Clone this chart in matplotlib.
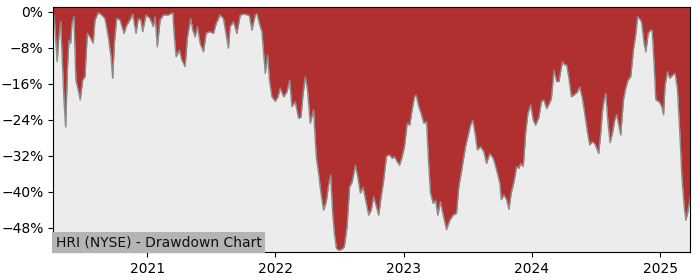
"""Drawdown chart for HRI (NYSE)

The drawdown values were read off the reference picture, in percent,
with the dates given as decimal years.
"""

import numpy as np
import pandas as pd
import matplotlib
matplotlib.use('Agg')
import matplotlib.pyplot as plt
import matplotlib.dates as mdates
from matplotlib.ticker import PercentFormatter

title = 'HRI (NYSE) - Drawdown Chart'

# decimal years of each reading
years = [
    2020.268, 2020.276, 2020.295, 2020.299, 2020.310, 2020.326, 2020.341, 2020.352,
    2020.365, 2020.380, 2020.391, 2020.404, 2020.414, 2020.430, 2020.445, 2020.463,
    2020.479, 2020.498, 2020.516, 2020.534, 2020.555, 2020.580, 2020.594, 2020.620,
    2020.646, 2020.672, 2020.698, 2020.719, 2020.732, 2020.745, 2020.763, 2020.789,
    2020.820, 2020.841, 2020.867, 2020.888, 2020.914, 2020.932, 2020.951, 2020.966,
    2020.992, 2021.023, 2021.049, 2021.063, 2021.080, 2021.102, 2021.127, 2021.166,
    2021.201, 2021.211, 2021.227, 2021.252, 2021.271, 2021.297, 2021.315, 2021.341,
    2021.357, 2021.375, 2021.393, 2021.414, 2021.440, 2021.461, 2021.487, 2021.518,
    2021.539, 2021.570, 2021.596, 2021.635, 2021.648, 2021.674, 2021.701, 2021.727,
    2021.766, 2021.799, 2021.818, 2021.844, 2021.857, 2021.883, 2021.896, 2021.922,
    2021.940, 2021.955, 2021.974, 2022.000, 2022.021,
    2022.039, 2022.065, 2022.091, 2022.112, 2022.130, 2022.156, 2022.182, 2022.201,
    2022.216, 2022.234, 2022.252, 2022.273, 2022.299, 2022.320, 2022.338, 2022.357,
    2022.377, 2022.398, 2022.416, 2022.432, 2022.448, 2022.461, 2022.477, 2022.495,
    2022.521, 2022.539, 2022.560, 2022.580, 2022.599, 2022.625, 2022.643, 2022.664,
    2022.685, 2022.703, 2022.729, 2022.748, 2022.768, 2022.789, 2022.807, 2022.826,
    2022.846, 2022.867, 2022.893, 2022.912, 2022.930, 2022.951, 2022.969, 2022.990,
    2023.008, 2023.029, 2023.049, 2023.068, 2023.086, 2023.099, 2023.120, 2023.138,
    2023.159, 2023.180, 2023.198, 2023.211, 2023.232, 2023.250, 2023.268, 2023.289,
    2023.310, 2023.336, 2023.362, 2023.388, 2023.414, 2023.432, 2023.459, 2023.484,
    2023.502, 2023.523, 2023.541, 2023.563, 2023.576, 2023.602, 2023.627, 2023.648,
    2023.674, 2023.701, 2023.727, 2023.752,
    2023.763, 2023.784, 2023.805, 2023.823, 2023.841, 2023.862, 2023.883, 2023.901,
    2023.914, 2023.935, 2023.953, 2023.971, 2023.992, 2024.013, 2024.031, 2024.057,
    2024.076, 2024.096, 2024.117, 2024.138, 2024.154, 2024.174, 2024.195, 2024.213,
    2024.240, 2024.258, 2024.273, 2024.291, 2024.310, 2024.330, 2024.357, 2024.375,
    2024.396, 2024.414, 2024.435, 2024.453, 2024.474, 2024.492, 2024.508, 2024.523,
    2024.539, 2024.552, 2024.565, 2024.578, 2024.596, 2024.612, 2024.630, 2024.648,
    2024.664, 2024.682, 2024.695, 2024.716, 2024.734, 2024.752, 2024.773, 2024.794,
    2024.813, 2024.826, 2024.841, 2024.857, 2024.877, 2024.891, 2024.909, 2024.924,
    2024.940, 2024.955, 2024.969, 2024.995, 2025.016, 2025.029, 2025.041, 2025.060,
    2025.078, 2025.099, 2025.120, 2025.138, 2025.156, 2025.172, 2025.190, 2025.203,
    2025.216, 2025.237,
]

# drawdown from the running high, percent
drawdown = [
    -0.5, -1.1, -9.6, -11.1, -6.3, -2.2, -12.2, -19.6,
    -25.6, -12.2, -6.3, -7.0, -2.6, -1.1, -15.2, -17.4,
    -19.6, -15.2, -14.4, -4.8, -5.6, -7.0, -1.8, -0.2,
    -0.7, -1.5, -5.6, -10.0, -14.8, -7.0, -1.5, -1.8,
    -4.8, -3.0, -1.8, -0.5, -4.8, -1.5, -1.8, -4.4,
    -0.7, -1.5, -3.3, -1.1, -7.8, -1.8, -0.7, -0.7,
    -0.2, -4.8, -10.0, -8.5, -10.7, -12.2, -5.6, -1.5,
    -4.1, -5.6, -3.3, -7.0, -8.9, -4.8, -4.4, -4.8,
    -2.6, -0.7, -1.5, -8.1, -3.3, -2.2, -4.8, -0.7,
    -0.5, -0.9, -4.1, -0.7, -0.4, -3.3, -4.4, -13.7,
    -9.6, -15.2, -18.9, -19.9, -18.9,
    -17.0, -18.9, -17.8, -15.2, -21.1, -20.0, -23.7, -23.4,
    -18.5, -14.4, -17.4, -24.8, -21.8, -32.2, -35.9, -40.4,
    -44.1, -42.2, -38.5, -36.3, -44.8, -49.2, -52.6, -53.0,
    -52.8, -52.2, -47.8, -38.9, -37.9, -34.1, -36.6, -40.3,
    -39.0, -41.5, -45.2, -44.1, -41.1, -43.3, -45.2, -41.1,
    -37.4, -32.1, -31.8, -32.6, -32.2, -33.3, -34.1, -32.2,
    -30.0, -24.8, -25.2, -21.8, -18.9, -18.5, -21.1, -22.6,
    -24.8, -24.4, -34.4, -40.3, -42.6, -41.9, -45.2, -42.2,
    -45.2, -48.4, -46.3, -45.2, -44.8, -38.9, -34.4, -30.0,
    -27.8, -25.2, -24.1, -27.8, -30.7, -30.0, -31.1, -33.7,
    -31.5, -32.6, -35.2, -38.1,
    -41.8, -40.7, -41.8, -43.9, -40.2, -37.8, -34.4, -34.8,
    -33.7, -34.4, -27.0, -22.6, -20.7, -24.1, -25.2, -23.4,
    -20.0, -19.6, -21.5, -20.4, -19.3, -13.0, -15.5, -15.5,
    -11.1, -11.8, -11.8, -14.8, -18.9, -18.5, -17.8, -16.7,
    -19.3, -22.6, -26.7, -29.6, -28.9, -29.3, -30.4, -31.5,
    -27.0, -22.2, -19.6, -18.1, -24.8, -29.1, -27.0, -24.1,
    -22.9, -25.5, -27.4, -19.6, -17.0, -15.2, -14.4, -8.5,
    -4.8, -1.1, -1.5, -2.2, -7.0, -8.9, -4.8, -4.2,
    -4.1, -11.5, -19.6, -20.0, -21.1, -22.9, -16.3, -13.3,
    -14.8, -14.1, -13.7, -17.4, -27.0, -36.7, -43.3, -46.3,
    -44.8, -41.1,
]

ytick_values = [0, -8, -16, -24, -32, -40, -48]

# decimal years -> timestamps
yr = np.array(years)
dates = pd.to_datetime('2020-01-01') + pd.to_timedelta((yr - 2020) * 365.25, unit='D')
dd = np.array(drawdown)

fig = plt.figure(figsize=(7, 2.8), dpi=100)
ax = fig.add_axes([0.076, 0.10, 0.910, 0.874])

y_top = 1.0
y_bottom = -53.4
ax.set_facecolor('#ececec')
ax.fill_between(dates, dd, y_top, color='#b03030', linewidth=0)   # red area above the curve
ax.plot(dates, dd, color='#8c8c8c', linewidth=1.0)   # grey edge of the drawdown

ax.set_xlim(dates[0], dates[-1])
ax.set_ylim(y_bottom, y_top)
ax.set_yticks(ytick_values)
ax.yaxis.set_major_formatter(PercentFormatter(decimals=0))
ax.xaxis.set_major_locator(mdates.YearLocator())
ax.xaxis.set_major_formatter(mdates.DateFormatter('%Y'))
ax.tick_params(labelsize=10)

ax.text(0.004, 0.012, title, transform=ax.transAxes, fontsize=10,
        ha='left', va='bottom', color='#111111',
        bbox=dict(facecolor='#b4b4b4', edgecolor='none', pad=2.5))

fig.savefig('out.png', dpi=100)
